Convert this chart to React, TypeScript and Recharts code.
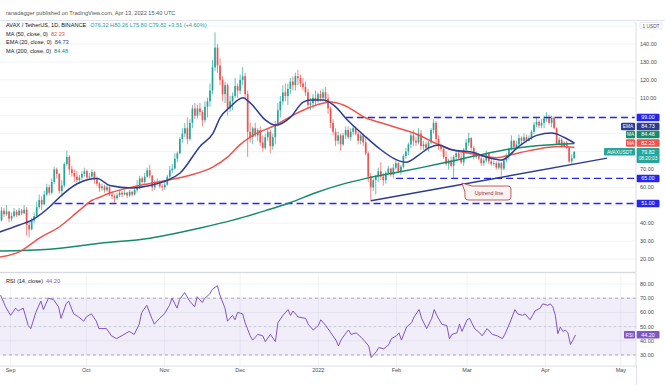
import React from 'react';
import {
  ComposedChart, Bar, Line, XAxis, YAxis, CartesianGrid,
  ReferenceLine, ReferenceArea, ReferenceDot,
} from 'recharts';

const FONT = '"Liberation Sans", Arial, sans-serif';
const GREEN = '#26a69a';
const RED = '#ef5350';
const EMA_COLOR = '#2b3c94';
const MA50_COLOR = '#f0524d';
const MA200_COLOR = '#168a6d';
const LEVEL_COLOR = '#2426ec';
const RSI_COLOR = '#7e57c2';
const GRID = '#eef0f5';
const AXIS_TEXT = '#4a4a4a';

// day index: 0 = 1 Sep 2021 ; categories run from day -5 to day 248
const firstAxisDay = -5;
const lastAxisDay = 248;
const firstCandleDay = -4; // 28 Aug 2021 .. 13 Apr 2022

const candleOpen = [
  41.5, 47, 45, 46.5, 42.5, 44, 46.5, 44.5, 47, 45.5,
  47.5, 39, 36.5, 41.5, 44, 49, 53, 50.5, 56, 60,
  57, 63, 70, 67.5, 58, 61, 73, 77, 70, 68,
  66, 64, 65.5, 67.5, 69, 65.5, 66, 68.5, 64.5, 62,
  59.5, 60.5, 58.5, 60, 56, 55, 54, 55.5, 57, 56,
  57, 55.5, 57.5, 56, 58.5, 60, 65, 63, 66, 69.5,
  66.5, 60, 62.5, 63, 60.5, 60, 61.5, 66, 69.5, 70.5,
  76, 79, 87, 90, 93, 87, 96, 104, 100, 104,
  102, 97.5, 105, 108, 114, 127, 138, 128, 120, 112,
  117, 104, 108, 111, 116.5, 114, 120, 122, 112, 91,
  88, 93, 89, 92, 85, 82, 88, 91, 83, 88,
  95, 103, 108, 113, 111, 115, 119, 117, 122, 121,
  118, 116, 113, 106, 107, 110, 108.5, 112, 110, 113,
  109.5, 104, 96, 91, 86, 89, 84, 89, 92, 88,
  91, 93, 90, 86, 89, 85, 79, 66, 60, 64,
  66, 69, 66, 64, 68, 70.5, 67, 71, 73.5, 69,
  71.5, 77.5, 80, 84, 89, 86, 85, 90, 83, 84,
  82, 85, 92, 96, 87, 83, 81.5, 77, 73, 75,
  72, 77, 79, 76.5, 74, 81, 85, 87.5, 82, 77,
  78.5, 76, 73.5, 75, 79, 74.5, 73, 73.5, 71, 73.5,
  70.5, 75, 77.5, 81.5, 86, 82.5, 84, 87.5, 86, 88,
  86, 87.5, 91, 95, 96.5, 94.5, 96, 98.5, 99, 96,
  99, 93, 84, 86.5, 82.5, 85, 82, 74.5, 76.32,
];
const candleHigh = [
  49, 48.5, 50, 47, 46, 48.5, 47.5, 48.5, 48, 50,
  49, 41, 43, 46, 52, 56, 55, 58, 62, 61.5,
  65, 71.5, 71, 68, 64, 74, 80.5, 78, 72, 70,
  69, 67, 69, 71, 70, 68, 70, 69, 66, 63,
  62, 61.5, 62, 60.5, 57.5, 56, 57, 58.5, 58, 58.5,
  57.5, 58.5, 58, 60, 64, 66.5, 66, 68, 71, 72.5,
  67, 64, 65, 64, 62, 63, 67, 72, 73, 79,
  80, 88, 93, 96, 99, 98, 106, 107, 106, 107,
  103, 108, 110, 118, 131, 146.5, 140, 132, 122, 119,
  118, 111, 113, 121, 118, 123, 127, 124, 114, 96,
  94, 96, 93, 94, 89, 90, 93, 92, 90, 97,
  107, 111, 117, 118, 118, 121, 122, 124, 125.5, 123,
  121, 119, 115, 110, 112, 114, 113, 114, 115, 116,
  112, 105, 98, 93, 91, 90, 90.5, 94, 94, 93,
  94.5, 94, 91, 90, 90, 88, 80, 68, 65, 67,
  71, 74, 68, 69, 72, 71, 73, 75, 74, 72.5,
  78.5, 82, 85, 91, 92, 88, 93, 92, 86, 85.5,
  86, 93, 98, 97, 89, 84.5, 83, 80, 76, 77,
  78, 80.5, 81, 79, 82, 87, 90.5, 88, 83, 80,
  79, 77.5, 76.5, 80.5, 79.5, 76, 75, 74.5, 74.5, 74,
  76, 79, 82, 89, 86.5, 86, 89.5, 88.5, 90, 89.5,
  89, 92, 96.5, 99, 97.5, 98, 100, 102, 100.5, 100,
  99.5, 93.5, 88, 87.5, 85.5, 86, 82.5, 78.5, 80.26,
];
const candleLow = [
  41, 43.5, 44, 40.5, 41, 43, 43.5, 44, 44.5, 45,
  33, 32, 36, 40, 43, 48, 47.5, 50, 55, 55.5,
  56, 62, 65, 56.5, 55, 60, 72, 67, 66, 63,
  63, 62, 64, 66, 63.5, 64, 64.5, 62, 60.5, 57.5,
  58, 57, 57.5, 55, 53.5, 51.5, 53, 54.5, 54.5, 55.5,
  54, 54.5, 55, 55.5, 57, 59, 62, 62, 65.5, 65,
  58, 58.5, 61, 59.5, 58, 58.5, 61, 65, 68, 70,
  74, 78.5, 85, 88, 84, 86, 93, 98, 98.5, 100,
  94, 96, 99, 105, 112, 125, 124, 117, 108, 107,
  100, 102, 103, 110, 110, 112, 117, 109, 77, 85,
  84, 88, 86, 83, 80, 81, 86, 79, 81, 84,
  94, 99, 106, 108, 106, 112, 114, 114, 117, 116,
  114, 111, 104, 103, 104, 106, 107, 108, 108, 107,
  101, 93, 89, 83, 84, 80.5, 83, 87, 87, 86,
  89, 89, 84, 84, 83, 78, 63, 52, 58, 56,
  63, 64, 61, 62, 67, 66, 65, 70, 68, 67,
  70.5, 76, 78, 82, 83, 83, 84, 81, 81, 80.5,
  80, 84, 90, 85, 81, 80, 76, 72, 70, 71,
  65, 75, 75.5, 73, 72, 79, 83, 80.5, 75.5, 76,
  75, 72, 72, 74, 73, 72, 72, 70, 70, 66.5,
  69.5, 74, 75.5, 80.5, 81, 81, 83.5, 84, 85, 85,
  85.5, 86.5, 90, 93.5, 93, 93, 93, 96.5, 95, 93.5,
  92.5, 83.5, 83.5, 82, 82.3, 81.5, 73.5, 73, 75.8,
];
const candleClose = [
  47, 45, 46.5, 42.5, 44, 46.5, 44.5, 47, 45.5, 47.5,
  39, 36.5, 41.5, 44, 49, 53, 50.5, 56, 60, 57,
  63, 70, 67.5, 58, 61, 73, 77, 70, 68, 66,
  64, 65.5, 67.5, 69, 65.5, 66, 68.5, 64.5, 62, 59.5,
  60.5, 58.5, 60, 56, 55, 54, 55.5, 57, 56, 57,
  55.5, 57.5, 56, 58.5, 60, 65, 63, 66, 69.5, 66.5,
  60, 62.5, 63, 60.5, 60, 61.5, 66, 69.5, 70.5, 76,
  79, 87, 90, 93, 87, 96, 104, 100, 104, 102,
  97.5, 105, 108, 114, 127, 138, 128, 120, 112, 117,
  104, 108, 111, 116.5, 114, 120, 122, 112, 91, 88,
  93, 89, 92, 85, 82, 88, 91, 83, 88, 95,
  103, 108, 113, 111, 115, 119, 117, 122, 121, 118,
  116, 113, 106, 107, 110, 108.5, 112, 110, 113, 109.5,
  104, 96, 91, 86, 89, 84, 89, 92, 88, 91,
  93, 90, 86, 89, 85, 79, 66, 60, 64, 66,
  69, 66, 64, 68, 70.5, 67, 71, 73.5, 69, 71.5,
  77.5, 80, 84, 89, 86, 85, 90, 83, 84, 82,
  85, 92, 96, 87, 83, 81.5, 77, 73, 75, 72,
  77, 79, 76.5, 74, 81, 85, 87.5, 82, 77, 78.5,
  76, 73.5, 75, 79, 74.5, 73, 73.5, 71, 73.5, 70.5,
  75, 77.5, 81.5, 86, 82.5, 84, 87.5, 86, 88, 86,
  87.5, 91, 95, 96.5, 94.5, 96, 98.5, 99, 96, 99,
  93, 84, 86.5, 82.5, 85, 82, 74.5, 76.31, 79.82,
];

const ema20Day = [-5, 3, 8, 15, 19, 26, 34, 39, 48, 55, 62, 67, 75, 80, 83, 87, 92, 95, 101, 105, 111, 116, 119, 124, 128, 134, 141, 146, 153, 157, 162, 166, 170, 175, 183, 190, 195, 202, 209, 215, 220, 224];
const ema20Value = [35, 39, 41.7, 49, 54.5, 62, 65, 61, 59.6, 61, 64, 68, 83, 90, 99, 105, 110, 107, 97.5, 94.7, 99.2, 107.6, 108.7, 108.7, 106, 97, 88, 82, 75.5, 74, 78, 82, 83.6, 81, 79.7, 76.5, 75.3, 83, 89, 90.3, 87.8, 84.73];

const ma50Day = [-5, 3, 11, 19, 27, 32, 35, 39, 51, 62, 71, 80, 86, 91, 96, 105, 112, 119, 127, 132, 141, 147, 154, 160, 173, 186, 193, 199, 206, 213, 219, 224];
const ma50Value = [21, 24, 31.7, 38, 47.3, 52.8, 54.5, 56.8, 61, 64, 66.8, 71.3, 77, 84, 89, 94.7, 100.3, 104.8, 107.6, 106, 98.7, 96, 93, 90.3, 82, 78, 76.5, 78.3, 80.5, 82.3, 82.8, 82.23];

const ma200Day = [-5, 15, 35, 55, 64, 75, 88, 101, 111, 121, 131, 141, 154, 163, 173, 186, 199, 213, 224];
const ma200Value = [24.5, 25.5, 28.8, 31.6, 34, 37.3, 41.7, 47, 51.5, 57, 61.5, 65, 68.5, 71, 74, 78, 81.5, 83.6, 84.48];

const rsiDay = [-4, -2, 0, 2, 3, 5, 7, 8, 10, 12, 13, 15, 17, 19, 20, 22, 23, 25, 27, 29, 30, 32, 34, 35, 38, 40, 42, 45, 47, 49, 51, 52, 54, 56, 57, 59, 61, 63, 64, 66, 67, 69, 71, 73, 74, 76, 77, 79, 80, 82, 83, 85, 86, 88, 89, 90, 92, 93, 95, 96, 98, 100, 101, 103, 105, 106, 108, 110, 111, 112, 114, 117, 118, 120, 122, 123, 125, 127, 129, 130, 131, 133, 134, 135, 137, 139, 140, 142, 143, 145, 146, 148, 150, 151, 153, 154, 155, 157, 159, 160, 162, 163, 165, 167, 168, 169, 171, 173, 174, 175, 177, 178, 179, 181, 182, 184, 186, 187, 189, 191, 193, 195, 196, 198, 200, 201, 203, 204, 206, 207, 208, 210, 211, 213, 214, 215, 216, 217, 218, 219, 220, 221, 222, 223, 224];
const rsiValue = [72.2, 64, 57.9, 63, 61, 63, 50.7, 48.6, 60, 68, 62, 70, 69, 64, 55.8, 66, 68, 59, 56.8, 53.8, 56.8, 59, 53.8, 48.6, 48.6, 43.5, 41.5, 44.5, 46.6, 44.5, 51.7, 60, 65, 55.8, 51.7, 55.8, 59, 65, 70, 63, 69, 74, 68, 64, 71, 67, 70, 73, 76.3, 78.8, 72.2, 63, 53.8, 57.9, 54.8, 60, 59, 52.7, 43.5, 40.5, 44.5, 43.5, 39.4, 44.5, 39.4, 52.7, 57.9, 62, 57.9, 61, 56.8, 55.8, 51.7, 47.6, 50.7, 54.8, 50.7, 45.6, 40.5, 36.4, 40.5, 45.6, 47.6, 44.5, 45.6, 42.5, 40.5, 36.4, 28.2, 32.3, 35.3, 34.3, 37.4, 41.5, 43.5, 45.6, 40.5, 49.7, 52.7, 56.8, 62, 55.8, 48.6, 55.8, 62, 57.9, 51.7, 50.7, 41.5, 44.5, 45.6, 51.7, 46.6, 54.8, 55.8, 48.6, 45.6, 43.5, 48.6, 44.5, 43.5, 41.5, 44.5, 52.7, 62, 59, 57.9, 59, 54.8, 57.9, 61, 63, 66, 65, 66, 64, 58, 45, 49.7, 46.6, 47.5, 45.6, 37.4, 40.5, 44.2];

const monthTickDays = [0, 30, 61, 91, 122, 153, 181, 212, 242];
const monthTickLabels = ['Sep', 'Oct', 'Nov', 'Dec', '2022', 'Feb', 'Mar', 'Apr', 'May'];

const priceTicks = [20, 30, 40, 50, 60, 70, 80, 90, 100, 110, 120, 130, 140, 150];
const hiddenPriceTicks = [50, 80, 90, 100, 150];
const rsiTicks = [30, 40, 50, 60, 70, 80];

const levelValues = [99, 65, 51];
const levelStartDays = [133, 153, 17];
const levelLabels = ['99.00', '65.00', '51.00'];

const uptrendDays = [143, 237];
const uptrendPrices = [52.5, 76.3];

const headerText = 'ranadagger published on TradingView.com, Apr 13, 2022 15:40 UTC';
const symbolText = 'AVAX / TetherUS, 1D, BINANCE';
const ohlcText = 'O76.32 H80.26 L75.80 C79.82 +3.51 (+4.60%)';

// ---- build table ----
const axisDays: number[] = [];
for (let d = firstAxisDay; d <= lastAxisDay; d++) axisDays.push(d);

const rows = axisDays.map((d) => {
  const row: any = { d };
  const i = d - firstCandleDay;
  if (i >= 0 && i < candleClose.length) {
    row.o = candleOpen[i];
    row.h = candleHigh[i];
    row.l = candleLow[i];
    row.c = candleClose[i];
    row.range = [candleLow[i], candleHigh[i]];
  }
  const e = ema20Day.indexOf(d);
  if (e >= 0) row.ema = ema20Value[e];
  const m = ma50Day.indexOf(d);
  if (m >= 0) row.ma50 = ma50Value[m];
  const t = ma200Day.indexOf(d);
  if (t >= 0) row.ma200 = ma200Value[t];
  const r = rsiDay.indexOf(d);
  if (r >= 0) row.rsi = rsiValue[r];
  return row;
});

const Candle = (props: any) => {
  const { x, y, width, height, payload } = props;
  if (!payload || payload.o == null || height == null) return null;
  const { o, h, l, c } = payload;
  const top = Math.min(y, y + height);
  const span = Math.abs(height);
  const k = h > l ? span / (h - l) : 0;
  const py = (v: number) => top + (h - v) * k;
  const cx = x + width / 2;
  const color = c >= o ? GREEN : RED;
  const bTop = py(Math.max(o, c));
  const bBot = py(Math.min(o, c));
  return (
    <g>
      <line x1={cx} x2={cx} y1={top} y2={top + span} stroke={color} strokeWidth={0.7} />
      <rect x={cx - 0.85} y={bTop} width={1.7} height={Math.max(0.7, bBot - bTop)} fill={color} />
    </g>
  );
};

const PriceTick = (props: any) => {
  const { x, y, payload } = props;
  if (hiddenPriceTicks.includes(payload.value)) return <g />;
  return (
    <text x={x + 4} y={y + 2} fontSize={5.5} fill={AXIS_TEXT} fontFamily={FONT} textAnchor="start">
      {Number(payload.value).toFixed(2)}
    </text>
  );
};

const RsiTick = (props: any) => {
  const { x, y, payload } = props;
  return (
    <text x={x + 4} y={y + 2} fontSize={5.5} fill={AXIS_TEXT} fontFamily={FONT} textAnchor="start">
      {Number(payload.value).toFixed(2)}
    </text>
  );
};

const MonthTick = (props: any) => {
  const { x, y, payload } = props;
  const idx = monthTickDays.indexOf(payload.value);
  return (
    <text x={x} y={y + 6} fontSize={5.5} fill={AXIS_TEXT} fontFamily={FONT} textAnchor="middle">
      {idx >= 0 ? monthTickLabels[idx] : ''}
    </text>
  );
};

const PriceTag = (props: any) => {
  const { viewBox, text, bg, dy = 0, side, sideBg, sideW = 12, sub } = props;
  if (!viewBox) return null;
  const right = viewBox.x + viewBox.width;
  const cy = viewBox.y + dy;
  const h = sub ? 15 : 7.5;
  const top = cy - 3.75;
  return (
    <g fontFamily={FONT}>
      {side ? <rect x={right - sideW - 1} y={top} width={sideW} height={7.5} fill={sideBg} rx={1} /> : null}
      {side ? (
        <text x={right - sideW / 2 - 1} y={cy + 1.9} textAnchor="middle" fontSize={4.8} fill="#fff">{side}</text>
      ) : null}
      <rect x={right + 0.5} y={top} width={23} height={h} fill={bg} rx={1} />
      <text x={right + 12} y={cy + 1.9} textAnchor="middle" fontSize={5.3} fill="#fff">{text}</text>
      {sub ? <text x={right + 12} y={cy + 8.6} textAnchor="middle" fontSize={4.8} fill="#fff">{sub}</text> : null}
    </g>
  );
};

const Callout = (props: any) => {
  const { cx, cy } = props;
  if (cx == null || cy == null) return null;
  const w = 46;
  const h = 14;
  const bx = cx + 1;
  const by = cy + 1;
  return (
    <g fontFamily={FONT}>
      <path
        d={`M${cx - 2},${cy - 2} L${bx + 7},${by} L${bx + w - 3},${by} Q${bx + w},${by} ${bx + w},${by + 3} L${bx + w},${by + h - 3} Q${bx + w},${by + h} ${bx + w - 3},${by + h} L${bx + 3},${by + h} Q${bx},${by + h} ${bx},${by + h - 3} L${bx},${by + 6} Z`}
        fill="#fdf2f2"
        stroke="#a53a3a"
        strokeWidth={0.8}
      />
      <text x={bx + w / 2 + 1} y={by + 9} textAnchor="middle" fontSize={5.3} fill="#9c2b2b">Uptrend line</text>
    </g>
  );
};

export default function App() {
  const W = 669;
  return (
    <div style={{ position: 'absolute', left: 0, top: 0, width: 665, height: 385, background: '#fff', overflow: 'hidden', fontFamily: FONT }}>
      {/* main price pane */}
      <div style={{ position: 'absolute', left: -2, top: 22 }}>
        <ComposedChart width={W} height={250} data={rows} margin={{ top: 0, right: 0, bottom: 0, left: 0 }}>
          <CartesianGrid stroke={GRID} strokeWidth={0.8} />
          <XAxis dataKey="d" type="category" height={0} tick={false} axisLine={false} tickLine={false} ticks={monthTickDays} interval={0} />
          <YAxis
            orientation="right"
            width={31}
            type="number"
            domain={[12.75, 152.28]}
            allowDataOverflow
            ticks={priceTicks}
            interval={0}
            tick={<PriceTick />}
            tickLine={false}
            tickSize={0}
            tickMargin={0}
            axisLine={{ stroke: '#e0e3eb' }}
          />
          {levelValues.map((v, i) => (
            <ReferenceLine
              key={'lvl' + i}
              segment={[{ x: levelStartDays[i], y: v }, { x: lastAxisDay, y: v }]}
              stroke={LEVEL_COLOR}
              strokeWidth={1.4}
              strokeDasharray="7 4"
              ifOverflow="visible"
            />
          ))}
          <ReferenceLine
            segment={[{ x: uptrendDays[0], y: uptrendPrices[0] }, { x: uptrendDays[1], y: uptrendPrices[1] }]}
            stroke="#2a3c8f"
            strokeWidth={1.5}
            ifOverflow="visible"
          />
          <Bar dataKey="range" shape={<Candle />} barSize={2} isAnimationActive={false} />
          <Line dataKey="ma200" type="monotone" stroke={MA200_COLOR} strokeWidth={1.5} dot={false} connectNulls isAnimationActive={false} />
          <Line dataKey="ma50" type="monotone" stroke={MA50_COLOR} strokeWidth={1.5} dot={false} connectNulls isAnimationActive={false} />
          <Line dataKey="ema" type="monotone" stroke={EMA_COLOR} strokeWidth={1.5} dot={false} connectNulls isAnimationActive={false} />
          <ReferenceDot x={180} y={61.3} r={0} shape={<Callout />} ifOverflow="visible" />
          {levelValues.map((v, i) => (
            <ReferenceLine key={'tag' + i} y={v} stroke="transparent" label={<PriceTag text={levelLabels[i]} bg={LEVEL_COLOR} />} />
          ))}
          <ReferenceLine y={84.73} stroke="transparent" label={<PriceTag text="84.73" bg={EMA_COLOR} dy={-16.6} side="EMA" sideBg={EMA_COLOR} sideW={14} />} />
          <ReferenceLine y={84.48} stroke="transparent" label={<PriceTag text="84.48" bg={MA200_COLOR} dy={-9} side="MA" sideBg={MA200_COLOR} sideW={9} />} />
          <ReferenceLine y={82.23} stroke="transparent" label={<PriceTag text="82.23" bg={MA50_COLOR} dy={-4.6} side="MA" sideBg={MA50_COLOR} sideW={9} />} />
          <ReferenceLine y={79.82} stroke="transparent" label={<PriceTag text="79.82" bg={GREEN} dy={0} side="AVAXUSDT" sideBg={GREEN} sideW={31} sub="08:20:03" />} />
        </ComposedChart>
      </div>

      {/* RSI pane */}
      <div style={{ position: 'absolute', left: -2, top: 273 }}>
        <ComposedChart width={W} height={112} data={rows} margin={{ top: 0, right: 0, bottom: 0, left: 0 }}>
          <CartesianGrid stroke={GRID} strokeWidth={0.8} />
          <ReferenceArea y1={30} y2={70} fill={RSI_COLOR} fillOpacity={0.1} stroke="none" ifOverflow="visible" />
          <XAxis
            dataKey="d"
            type="category"
            height={19}
            ticks={monthTickDays}
            interval={0}
            tick={<MonthTick />}
            tickLine={false}
            tickSize={0}
            tickMargin={0}
            axisLine={{ stroke: '#e0e3eb' }}
          />
          <YAxis
            orientation="right"
            width={31}
            type="number"
            domain={[22.25, 87.75]}
            allowDataOverflow
            ticks={rsiTicks}
            interval={0}
            tick={<RsiTick />}
            tickLine={false}
            tickSize={0}
            tickMargin={0}
            axisLine={{ stroke: '#e0e3eb' }}
          />
          <ReferenceLine y={70} stroke="#9598a1" strokeDasharray="3 3" strokeWidth={0.8} />
          <ReferenceLine y={50} stroke="#c3c5cc" strokeDasharray="2 3" strokeWidth={0.8} />
          <ReferenceLine y={30} stroke="#9598a1" strokeDasharray="3 3" strokeWidth={0.8} />
          <Line dataKey="rsi" type="linear" stroke={RSI_COLOR} strokeWidth={1} dot={false} connectNulls isAnimationActive={false} />
          <ReferenceLine y={44.2} stroke="transparent" label={<PriceTag text="44.20" bg={RSI_COLOR} side="RSI" sideBg={RSI_COLOR} sideW={11} />} />
        </ComposedChart>
      </div>

      {/* overlay: header, legends, separators */}
      <svg width={665} height={385} style={{ position: 'absolute', left: 0, top: 0, pointerEvents: 'none' }} fontFamily={FONT}>
        <text x={6} y={15} fontSize={5.6} fill="#555">{headerText}</text>
        <line x1={0} x2={665} y1={20.5} y2={20.5} stroke="#e0e3eb" strokeWidth={1} />
        <line x1={0} x2={636} y1={272.5} y2={272.5} stroke="#d6d9e0" strokeWidth={1} />
        <line x1={636.5} x2={636.5} y1={366} y2={385} stroke="#e0e3eb" strokeWidth={1} />
        <text x={6} y={27} fontSize={5.6} fill="#131722">
          {symbolText}
          <tspan dx={4} fill={GREEN}>{ohlcText}</tspan>
        </text>
        <text x={6} y={35.5} fontSize={5.6} fill="#131722">
          MA (50, close, 0)
          <tspan dx={3} fill={MA50_COLOR}>82.23</tspan>
        </text>
        <text x={6} y={44} fontSize={5.6} fill="#131722">
          EMA (20, close, 0)
          <tspan dx={3} fill={EMA_COLOR}>84.73</tspan>
        </text>
        <text x={6} y={52.5} fontSize={5.6} fill="#131722">
          MA (200, close, 0)
          <tspan dx={3} fill={MA200_COLOR}>84.48</tspan>
        </text>
        <text x={6} y={283} fontSize={5.6} fill="#131722">
          RSI (14, close)
          <tspan dx={3} fill={RSI_COLOR}>44.20</tspan>
        </text>
        <rect x={640} y={22.5} width={22} height={6.5} fill="#fff" stroke="#d6d9e0" strokeWidth={0.6} rx={1} />
        <text x={651} y={27.5} fontSize={4.8} fill="#555" textAnchor="middle">1 USDT</text>
      </svg>
    </div>
  );
}
